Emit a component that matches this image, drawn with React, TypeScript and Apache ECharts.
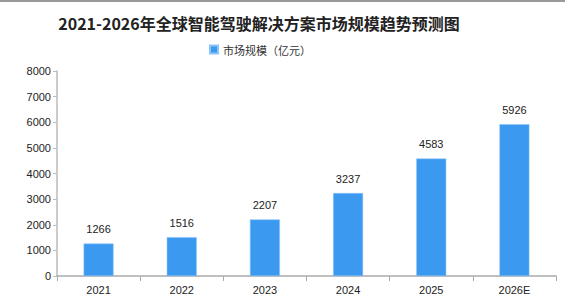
import React, { useEffect, useRef } from "react";
import * as echarts from "echarts";

const categories = ["2021", "2022", "2023", "2024", "2025", "2026E"];
const values = [1266, 1516, 2207, 3237, 4583, 5926];
const seriesName = "市场规模（亿元）";
const titleText = "2021-2026年全球智能驾驶解决方案市场规模趋势预测图";

export default function App() {
  const ref = useRef<HTMLDivElement>(null);
  useEffect(() => {
    const chart = echarts.init(ref.current!, null, { renderer: "svg" });
    chart.setOption({
      animation: false,
      backgroundColor: "#ffffff",
      title: {
        text: titleText,
        left: 254,
        textAlign: "center",
        top: 10,
        textStyle: { fontFamily: "Noto Sans CJK SC", fontWeight: "bold", fontSize: 16, color: "#222" },
      },
      legend: {
        data: [seriesName],
        left: 204,
        top: 39,
        itemWidth: 8,
        itemHeight: 8,
        itemGap: 3,
        icon: "rect",
        textStyle: { fontFamily: "Noto Sans CJK SC", fontSize: 11, color: "#333" },
      },
      graphic: [
        { type: "line", shape: { x1: 0, y1: 1, x2: 565, y2: 1 }, style: { stroke: "#999", lineWidth: 2 } },
      ],
      grid: { left: 57, right: 25, top: 71, bottom: 25 },
      xAxis: {
        type: "category",
        data: categories,
        axisLine: { lineStyle: { color: "#aaa", width: 1.5 } },
        axisTick: { show: true, alignWithLabel: false, length: 5, lineStyle: { color: "#aaa" } },
        axisLabel: { color: "#222", fontSize: 11, fontFamily: "Liberation Sans", margin: 8 },
      },
      yAxis: {
        type: "value",
        min: 0,
        max: 8000,
        interval: 1000,
        axisLine: { show: true, lineStyle: { color: "#bbb", width: 1.5 } },
        axisTick: { show: true, length: 4, lineStyle: { color: "#bbb" } },
        splitLine: { show: false },
        axisLabel: { color: "#222", fontSize: 11, fontFamily: "Liberation Sans", margin: 6, formatter: (v: number) => String(v) },
      },
      series: [
        {
          name: seriesName,
          type: "bar",
          data: values,
          barWidth: "36%",
          itemStyle: { color: "#3b9af0", borderColor: "#8cc4f7", borderWidth: 0.5 },
          label: { show: true, position: "top", distance: 9, color: "#222", fontSize: 11, fontFamily: "Liberation Sans" },
        },
      ],
    });
    return () => chart.dispose();
  }, []);
  return <div ref={ref} style={{ width: 581, height: 301, position: "absolute", left: 0, top: 0 }} />;
}
